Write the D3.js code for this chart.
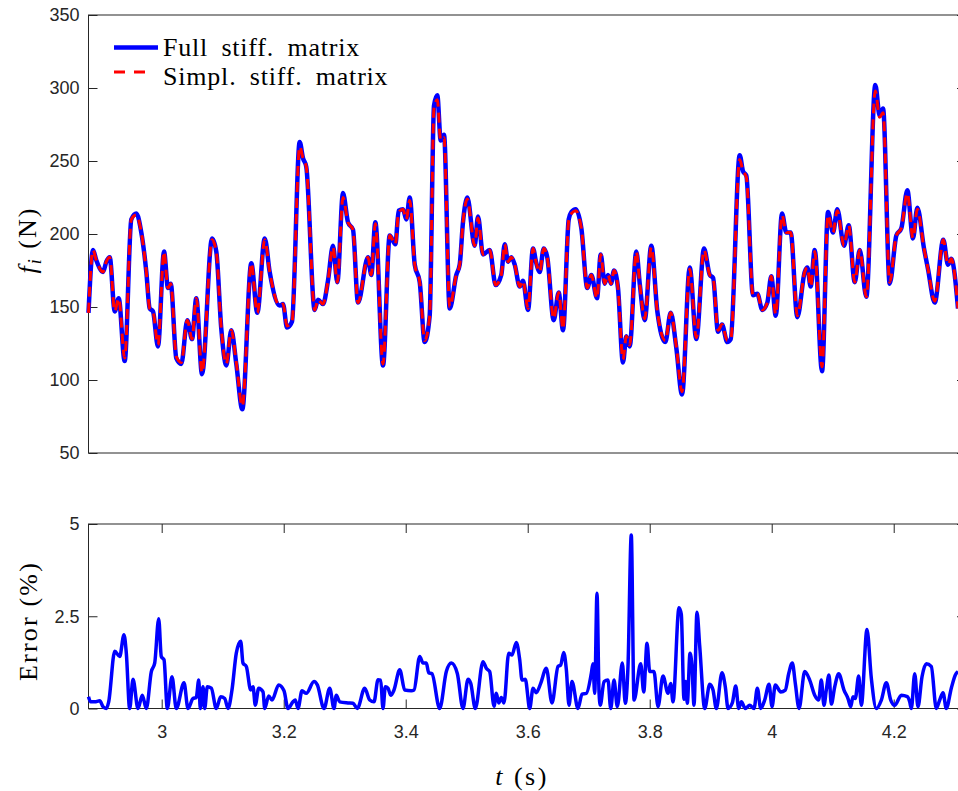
<!DOCTYPE html>
<html>
<head>
<meta charset="utf-8">
<script src="https://cdn.jsdelivr.net/npm/d3@7"></script>
<style>
body { margin: 0; background: #fff; }
svg { display: block; }
.tick text { font-family: "Liberation Sans", Arial, sans-serif; font-size: 18px; fill: #262626; }
.tick line { stroke: #262626; stroke-width: 1; }
.lab { font-family: "Liberation Serif", "Times New Roman", serif; fill: #000; }
</style>
</head>
<body>
<svg id="chart" width="958" height="791"></svg>
<script>
// time (s) of the force samples
var tForce = [2.8800, 2.8874, 2.8928, 2.9038, 2.9092, 2.9148, 2.9230, 2.9295, 2.9393, 2.9502,
	2.9584, 2.9666, 2.9748, 2.9803, 2.9857, 2.9939, 3.0038, 3.0103, 3.0148, 3.0239,
	3.0321, 3.0420, 3.0497, 3.0567, 3.0661, 3.0825, 3.0895, 3.0977, 3.1059, 3.1141,
	3.1223, 3.1321, 3.1469, 3.1567, 3.1689, 3.1770, 3.1934, 3.1989, 3.2054, 3.2136,
	3.2262, 3.2316, 3.2370, 3.2508, 3.2562, 3.2644, 3.2726, 3.2808, 3.2879, 3.2972,
	3.3054, 3.3136, 3.3218, 3.3382, 3.3436, 3.3502, 3.3628, 3.3738, 3.3830, 3.3885,
	3.3956, 3.4010, 3.4066, 3.4148, 3.4230, 3.4311, 3.4393, 3.4464, 3.4518, 3.4574,
	3.4628, 3.4721, 3.4830, 3.4885, 3.4939, 3.5010, 3.5131, 3.5185, 3.5267, 3.5377,
	3.5475, 3.5567, 3.5623, 3.5677, 3.5731, 3.5787, 3.5869, 3.5923, 3.6005, 3.6087,
	3.6141, 3.6197, 3.6262, 3.6321, 3.6426, 3.6508, 3.6579, 3.6672, 3.6715, 3.6787,
	3.6879, 3.6977, 3.7043, 3.7136, 3.7197, 3.7262, 3.7316, 3.7365, 3.7415, 3.7480,
	3.7562, 3.7616, 3.7672, 3.7780, 3.7839, 3.7918, 3.8026, 3.8125, 3.8256, 3.8344,
	3.8436, 3.8530, 3.8656, 3.8764, 3.8890, 3.8984, 3.9039, 3.9120, 3.9185, 3.9272,
	3.9328, 3.9475, 3.9530, 3.9584, 3.9693, 3.9764, 3.9846, 3.9928, 3.9993, 4.0066,
	4.0169, 4.0239, 4.0311, 4.0420, 4.0541, 4.0584, 4.0639, 4.0705, 4.0825, 4.0923,
	4.1005, 4.1075, 4.1185, 4.1262, 4.1361, 4.1443, 4.1551, 4.1698, 4.1770, 4.1825,
	4.1934, 4.2043, 4.2125, 4.2223, 4.2316, 4.2387, 4.2497, 4.2562, 4.2672, 4.2813,
	4.2890, 4.2944, 4.3054];

// f_i (N), full stiffness matrix
var fFull = [146, 189, 182, 174, 181, 184, 147, 156, 113, 210,
	214, 201, 174, 149, 147, 123, 188, 163, 166, 115,
	111, 141, 128, 156, 104, 197, 188, 135, 110, 134,
	111, 80, 180, 146, 197, 174, 151, 152, 136, 140,
	263, 252, 246, 148, 155, 152, 168, 192, 167, 228,
	208, 203, 153, 184, 172, 208, 110, 199, 193, 216,
	217, 210, 225, 179, 167, 126, 144, 288, 295, 264,
	268, 149, 172, 179, 208, 225, 192, 212, 186, 189,
	165, 172, 193, 181, 184, 179, 164, 168, 148, 190,
	180, 174, 190, 184, 141, 160, 134, 210, 215, 217,
	204, 163, 172, 156, 186, 166, 172, 166, 175, 163,
	112, 130, 123, 188, 165, 141, 192, 147, 126, 146,
	122, 90, 177, 128, 190, 172, 170, 133, 138, 126,
	128, 254, 243, 240, 158, 159, 148, 153, 171, 144,
	214, 201, 201, 143, 174, 177, 164, 189, 106, 215,
	201, 217, 192, 206, 167, 189, 157, 302, 281, 286,
	166, 199, 204, 230, 197, 218, 190, 176, 153, 196,
	179, 183, 149];

// f_i (N), simplified stiffness matrix
var fSimpl = [146, 189, 182, 174, 181, 184, 147, 156, 115, 210,
	213, 201, 174, 149, 147, 124, 188, 163, 166, 116,
	112, 141, 128, 156, 105, 196, 188, 135, 111, 134,
	112, 82, 180, 146, 196, 174, 151, 152, 137, 140,
	260, 252, 246, 148, 155, 152, 168, 191, 167, 225,
	208, 203, 153, 184, 172, 207, 111, 199, 193, 215,
	217, 210, 223, 179, 167, 127, 144, 286, 292, 264,
	266, 150, 172, 179, 208, 224, 192, 211, 186, 189,
	165, 172, 193, 181, 184, 179, 164, 168, 149, 190,
	180, 174, 190, 184, 142, 160, 135, 209, 214, 216,
	204, 163, 172, 156, 186, 166, 172, 166, 175, 163,
	114, 130, 124, 188, 165, 142, 191, 147, 127, 146,
	123, 92, 176, 129, 189, 172, 170, 134, 138, 127,
	128, 251, 243, 239, 158, 159, 148, 153, 171, 145,
	213, 201, 201, 144, 174, 177, 164, 188, 109, 213,
	201, 216, 192, 206, 167, 189, 157, 298, 280, 283,
	167, 199, 204, 228, 197, 217, 190, 176, 154, 196,
	179, 183, 149];

// time (s) of the error samples
var tErr = [2.8800, 2.8836, 2.8902, 2.8984, 2.9038, 2.9092, 2.9131, 2.9230, 2.9311, 2.9382,
	2.9420, 2.9475, 2.9530, 2.9611, 2.9682, 2.9748, 2.9830, 2.9885, 2.9951, 2.9993,
	3.0038, 3.0092, 3.0169, 3.0239, 3.0366, 3.0431, 3.0513, 3.0567, 3.0607, 3.0633,
	3.0677, 3.0705, 3.0748, 3.0813, 3.0895, 3.0967, 3.1033, 3.1087, 3.1152, 3.1223,
	3.1295, 3.1333, 3.1387, 3.1459, 3.1497, 3.1534, 3.1590, 3.1661, 3.1689, 3.1754,
	3.1808, 3.1918, 3.2005, 3.2070, 3.2152, 3.2190, 3.2234, 3.2300, 3.2370, 3.2497,
	3.2551, 3.2661, 3.2754, 3.2825, 3.2862, 3.2918, 3.3054, 3.3136, 3.3207, 3.3328,
	3.3410, 3.3480, 3.3546, 3.3590, 3.3628, 3.3666, 3.3710, 3.3754, 3.3808, 3.3902,
	3.3984, 3.4092, 3.4136, 3.4230, 3.4284, 3.4338, 3.4377, 3.4431, 3.4557, 3.4666,
	3.4748, 3.4846, 3.4939, 3.5021, 3.5066, 3.5141, 3.5267, 3.5321, 3.5377, 3.5448,
	3.5485, 3.5525, 3.5567, 3.5611, 3.5689, 3.5743, 3.5813, 3.5869, 3.5907, 3.5961,
	3.6033, 3.6087, 3.6141, 3.6213, 3.6305, 3.6398, 3.6497, 3.6541, 3.6590, 3.6633,
	3.6677, 3.6726, 3.6825, 3.6890, 3.6961, 3.7043, 3.7070, 3.7098, 3.7136, 3.7169,
	3.7190, 3.7251, 3.7316, 3.7361, 3.7415, 3.7469, 3.7551, 3.7600, 3.7644, 3.7698,
	3.7743, 3.7852, 3.7902, 3.7956, 3.8000, 3.8070, 3.8136, 3.8218, 3.8300, 3.8344,
	3.8382, 3.8480, 3.8518, 3.8562, 3.8590, 3.8616, 3.8661, 3.8693, 3.8726, 3.8775,
	3.8820, 3.8902, 3.8984, 3.9038, 3.9092, 3.9185, 3.9239, 3.9284, 3.9354, 3.9410,
	3.9459, 3.9502, 3.9567, 3.9639, 3.9710, 3.9764, 3.9820, 3.9885, 3.9956, 4.0005,
	4.0059, 4.0148, 4.0223, 4.0279, 4.0338, 4.0387, 4.0448, 4.0541, 4.0623, 4.0705,
	4.0770, 4.0813, 4.0857, 4.0895, 4.0939, 4.0977, 4.1033, 4.1098, 4.1185, 4.1251,
	4.1295, 4.1333, 4.1370, 4.1426, 4.1469, 4.1562, 4.1633, 4.1715, 4.1797, 4.1879,
	4.1951, 4.2016, 4.2125, 4.2223, 4.2262, 4.2289, 4.2344, 4.2398, 4.2464, 4.2534,
	4.2616, 4.2698, 4.2754, 4.2808, 4.2862, 4.2944, 4.3010, 4.3054];

// error (%)
var errPct = [0.32, 0.18, 0.18, 0.21, 0.05, 0, 0.18, 1.55, 1.41, 2.0,
	1.5, 0, 0.79, 0, 0.36, 0, 1.0, 1.23, 2.43, 1.41,
	1.32, 0, 0.86, 0, 0.7, 0, 0.27, 0.3, 0.77, 0,
	0.59, 0, 0.59, 0.55, 0, 0.32, 0.27, 0, 0.5, 1.5,
	1.82, 1.23, 1.14, 0.5, 0.59, 0.09, 0.55, 0.45, 0, 0.34,
	0.23, 0.64, 0.48, 0, 0.18, 0.23, 0, 0.48, 0.41, 0.73,
	0.64, 0, 0.55, 0, 0.36, 0.18, 0.15, 0.14, 0, 0.55,
	0.23, 0.18, 0.78, 0.77, 0, 0.59, 0.55, 0.36, 0.5, 1.05,
	0.5, 0.48, 0.5, 1.41, 1.23, 1.23, 0.97, 0.94, 0, 1.0,
	1.23, 0.95, 0, 0.79, 0.68, 0, 1.27, 1.09, 1.0, 0.06,
	0.41, 0.15, 0.3, 0.15, 1.5, 1.45, 1.79, 1.32, 0.77, 0.79,
	0, 0.55, 0.43, 0.68, 1.09, 0.15, 1.14, 1.18, 1.52, 1.06,
	0.09, 0.73, 0, 0.39, 0.41, 0.95, 1.21, 0.41, 3.12, 0.45,
	0.09, 0.73, 0.77, 0, 0.77, 0.05, 1.23, 0.14, 1.14, 4.7,
	0.23, 1.21, 0.45, 1.77, 1.0, 1.0, 0.05, 0.88, 0.41, 0.68,
	0.18, 2.73, 2.55, 0.25, 0.73, 0.14, 1.5, 1.14, 0.09, 2.61,
	1.68, 0, 0.66, 0.5, 0, 0.97, 0.59, 0, 0.15, 0.61,
	0, 0.18, 0, 0.09, 0, 0.55, 0, 0.23, 0.66, 0.05,
	0.64, 0.45, 0.5, 0.95, 1.23, 0.68, 0, 1.0, 0.77, 0.36,
	0.23, 0.77, 0.09, 0.5, 0.91, 0.12, 0.59, 0.94, 0.5, 0.27,
	0.05, 0.32, 0.27, 0.88, 0.09, 2.14, 0.82, 0, 0.23, 0.7,
	0.23, 0.09, 0.36, 0.32, 0.18, 0, 0.94, 0.05, 0.86, 1.21,
	1.14, 0, 0.23, 0.43, 0, 0.55, 0.91, 1.0];

var xTicks = [3, 3.2, 3.4, 3.6, 3.8, 4, 4.2];
var fTicks = [50, 100, 150, 200, 250, 300, 350];
var errTicks = [0, 2.5, 5];
var seriesNames = ["Full stiff. matrix", "Simpl. stiff. matrix"];

var svg = d3.select("#chart");
var left = 88.5, right = 966;
var topA = { top: 15, bottom: 453 };
var botA = { top: 524, bottom: 708.5 };

var x = d3.scaleLinear().domain([2.88, 4.3185]).range([left, right]);
var yF = d3.scaleLinear().domain([50, 350]).range([topA.bottom, topA.top]);
var yE = d3.scaleLinear().domain([0, 5]).range([botA.bottom, botA.top]);

function fmt(d) { return String(d); }

function strip(g) {
	g.select(".domain").remove();
}

// top axes
svg.append("g")
	.attr("transform", "translate(" + left + ",0)")
	.call(d3.axisLeft(yF).tickValues(fTicks).tickSize(-9).tickPadding(9).tickFormat(fmt))
	.call(strip);
svg.append("g")
	.attr("transform", "translate(" + right + ",0)")
	.call(d3.axisRight(yF).tickValues(fTicks).tickSize(-9).tickFormat(""))
	.call(strip);
svg.append("rect")
	.attr("x", left)
	.attr("y", topA.top)
	.attr("width", right - left)
	.attr("height", topA.bottom - topA.top)
	.style("fill", "none")
	.style("stroke", "#262626");

// bottom axes
svg.append("g")
	.attr("transform", "translate(" + left + ",0)")
	.call(d3.axisLeft(yE).tickValues(errTicks).tickSize(-9).tickPadding(9).tickFormat(fmt))
	.call(strip);
svg.append("g")
	.attr("transform", "translate(" + right + ",0)")
	.call(d3.axisRight(yE).tickValues(errTicks).tickSize(-9).tickFormat(""))
	.call(strip);
svg.append("g")
	.attr("transform", "translate(0," + botA.top + ")")
	.call(d3.axisTop(x).tickValues(xTicks).tickSize(-9).tickFormat(""))
	.call(strip);
svg.append("g")
	.attr("transform", "translate(0," + botA.bottom + ")")
	.call(d3.axisBottom(x).tickValues(xTicks).tickSize(-9).tickPadding(16.5).tickFormat(fmt))
	.call(strip);
svg.append("rect")
	.attr("x", left)
	.attr("y", botA.top)
	.attr("width", right - left)
	.attr("height", botA.bottom - botA.top)
	.style("fill", "none")
	.style("stroke", "#262626");

// lines
var lineF = d3.line()
	.x(function (d) { return x(d[0]); })
	.y(function (d) { return yF(d[1]); })
	.curve(d3.curveMonotoneX);

var lineE = d3.line()
	.x(function (d) { return x(d[0]); })
	.y(function (d) { return yE(d[1]); })
	.curve(d3.curveMonotoneX);

svg.append("path")
	.datum(d3.zip(tForce, fFull))
	.attr("d", lineF)
	.style("fill", "none")
	.style("stroke", "#0000ff")
	.style("stroke-width", 4.5)
	.style("stroke-linejoin", "round");

svg.append("path")
	.datum(d3.zip(tForce, fSimpl))
	.attr("d", lineF)
	.style("fill", "none")
	.style("stroke", "#ff0000")
	.style("stroke-width", 3)
	.style("stroke-dasharray", "10,6");

svg.append("path")
	.datum(d3.zip(tErr, errPct))
	.attr("d", lineE)
	.style("fill", "none")
	.style("stroke", "#0000ff")
	.style("stroke-width", 3.5)
	.style("stroke-linejoin", "round");

// legend
var leg = svg.append("g");
leg.append("line")
	.attr("x1", 114).attr("x2", 158)
	.attr("y1", 47.5).attr("y2", 47.5)
	.style("stroke", "#0000ff")
	.style("stroke-width", 4.5);
leg.append("line")
	.attr("x1", 114).attr("x2", 150)
	.attr("y1", 72).attr("y2", 72)
	.style("stroke", "#ff0000")
	.style("stroke-width", 3)
	.style("stroke-dasharray", "11,9");
leg.selectAll("text.item")
	.data(seriesNames)
	.enter().append("text")
	.attr("class", "lab item")
	.attr("x", 163)
	.attr("y", function (d, i) { return i === 0 ? 55.5 : 84.5; })
	.style("font-size", "26px")
	.style("letter-spacing", "0.8px")
	.style("word-spacing", "6px")
	.text(function (d) { return d; });

// axis labels
var yl = svg.append("text")
	.attr("class", "lab")
	.attr("transform", "translate(36,240) rotate(-90)")
	.attr("text-anchor", "middle")
	.style("font-size", "26px")
	.style("letter-spacing", "2px");
yl.append("tspan").style("font-style", "italic").text("f");
yl.append("tspan").style("font-style", "italic").style("font-size", "18px").attr("dy", 5).text("i");
yl.append("tspan").attr("dy", -5).text(" (N)");

svg.append("text")
	.attr("class", "lab")
	.attr("transform", "translate(37,621) rotate(-90)")
	.attr("text-anchor", "middle")
	.style("font-size", "26px")
	.style("letter-spacing", "2.2px")
	.text("Error (%)");

var xl = svg.append("text")
	.attr("class", "lab")
	.attr("x", 522)
	.attr("y", 785)
	.attr("text-anchor", "middle")
	.style("font-size", "26px")
	.style("letter-spacing", "2.5px");
xl.append("tspan").style("font-style", "italic").text("t");
xl.append("tspan").text(" (s)");
</script>
</body>
</html>
